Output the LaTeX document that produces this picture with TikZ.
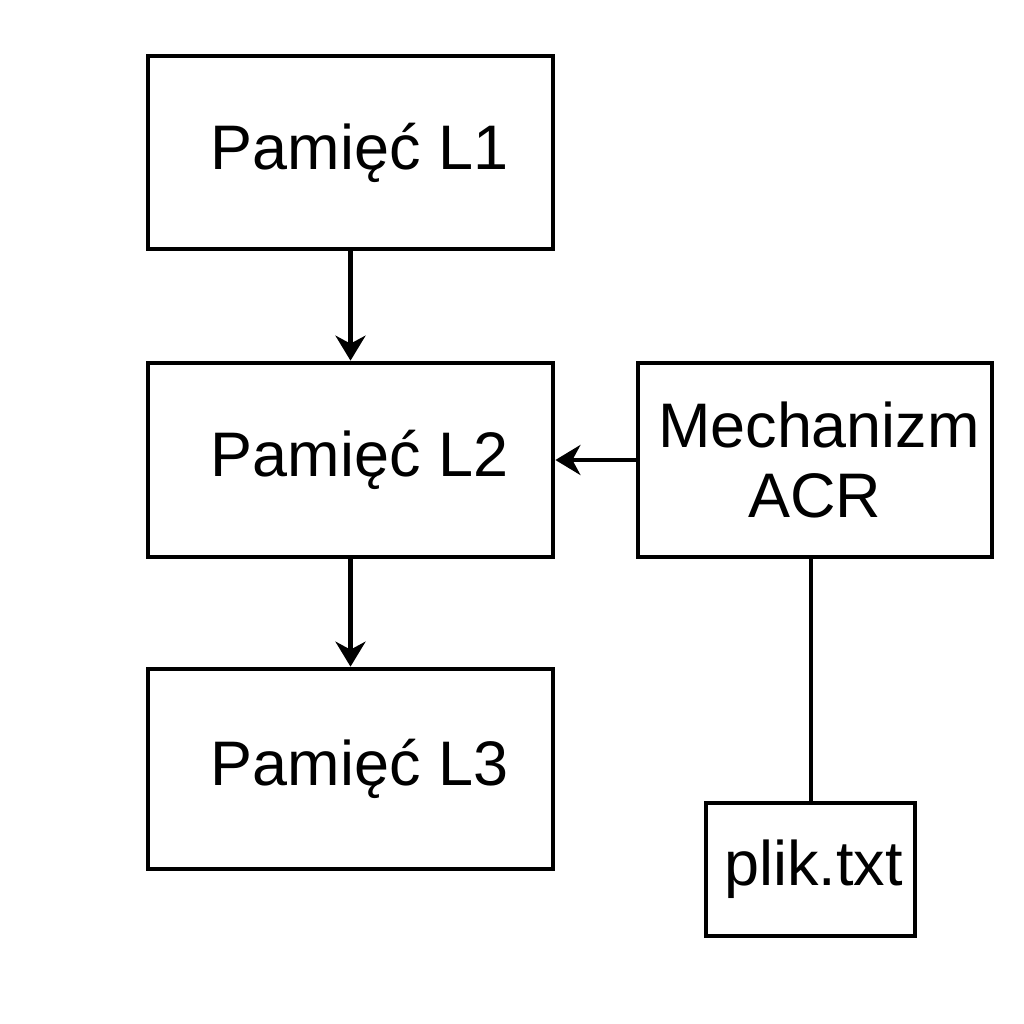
\documentclass[tikz,border=0pt]{standalone}
\usepackage{fontspec}
\setmainfont{Liberation Sans}
\usetikzlibrary{arrows.meta}
\begin{document}
\begin{tikzpicture}[
    x=0.01cm, y=-0.01cm,
    box_style/.style={rectangle, draw, line width=1.3pt, inner sep=0pt, align=center,
        font=\fontsize{17.9}{20}\selectfont},
    mem_style/.style={box_style, minimum width=4.05cm, execute at begin node={\hspace*{1.8mm}}},
    flow/.style={-{Stealth[length=2.5mm, width=3.0mm, inset=0.8mm]}, line width=1.15pt},
    link/.style={line width=1.15pt}
]
\useasboundingbox (0,0) rectangle (1024,1024);
\node[mem_style, minimum height=1.93cm] (l1) at (350.5, 152.5) {Pamięć L1};
\node[mem_style, minimum height=1.94cm] (l2) at (350.5, 460) {Pamięć L2};
\node[mem_style, minimum height=2.00cm] (l3) at (350.5, 769) {Pamięć L3};
\node[box_style, minimum width=3.54cm, minimum height=1.94cm] (acr) at (815, 460) {\hspace*{0.8mm}Mechanizm\\ACR};
\node[box_style, minimum width=2.09cm, minimum height=1.33cm] (file) at (810.5, 869.5) {\hspace*{0.6mm}plik.txt};

\draw[flow] (l1) -- (l2);
\draw[flow] (l2) -- (l3);
\draw[flow] (acr) -- (l2);
\draw[link] (file.north -| 811,0) -- (acr.south -| 811,0);
\end{tikzpicture}
\end{document}
